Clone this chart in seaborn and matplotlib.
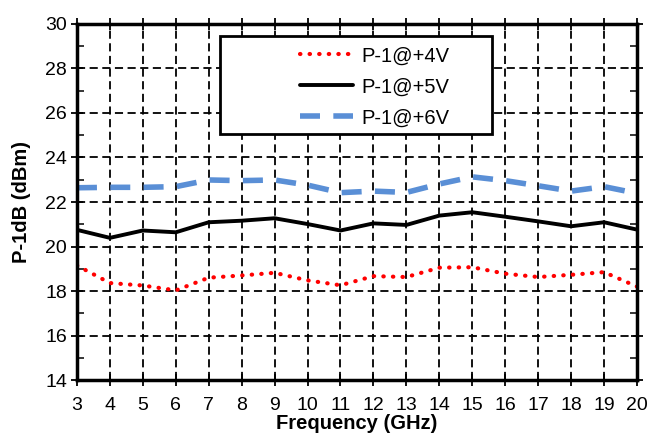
import matplotlib
matplotlib.use("Agg")
import matplotlib.pyplot as plt
import seaborn as sns
import pandas as pd
from matplotlib.ticker import MultipleLocator
from matplotlib.patches import Rectangle

freq = [3, 4, 5, 6, 7, 8, 9, 10, 11, 12, 13, 14, 15, 16, 17, 18, 19, 20]
p4v = [19.15, 18.36, 18.25, 18.03, 18.6, 18.7, 18.82, 18.48, 18.26, 18.67, 18.63, 19.05, 19.07, 18.78, 18.63, 18.73, 18.85, 18.2]
p5v = [20.75, 20.39, 20.72, 20.64, 21.09, 21.16, 21.27, 21.01, 20.72, 21.04, 20.97, 21.39, 21.54, 21.34, 21.13, 20.91, 21.09, 20.76]
p6v = [22.64, 22.66, 22.66, 22.69, 22.99, 22.96, 22.99, 22.76, 22.42, 22.49, 22.43, 22.81, 23.13, 22.96, 22.73, 22.49, 22.69, 22.39]
labels = ["P-1@+4V", "P-1@+5V", "P-1@+6V"]

sns.set_theme(style="white")
plt.rcParams["font.family"] = ["Liberation Sans", "DejaVu Sans"]
plt.rcParams["text.color"] = "black"
plt.rcParams["axes.labelcolor"] = "black"

fig = plt.figure(figsize=(6.52, 4.43), dpi=100)
ax = fig.add_axes([0.118, 0.142, 0.859, 0.804])

df = pd.DataFrame({"f": freq, "a": p4v, "b": p5v, "c": p6v})
sns.lineplot(data=df, x="f", y="a", ax=ax, color="#FF0000", lw=3.0,
             linestyle=(0, (0.1, 2.2)), dash_capstyle="round", label=labels[0])
sns.lineplot(data=df, x="f", y="b", ax=ax, color="black", lw=2.8, label=labels[1])
sns.lineplot(data=df, x="f", y="c", ax=ax, color="#5A8FD6", lw=4.0,
             linestyle=(0, (3.6, 2.4)), label=labels[2])

ax.set_xlim(3, 20)
ax.set_ylim(14, 30)
ax.xaxis.set_major_locator(MultipleLocator(1))
ax.yaxis.set_major_locator(MultipleLocator(2))
ax.yaxis.set_minor_locator(MultipleLocator(1))
ax.grid(True, which="major", color="black", linestyle=(0, (4.5, 2.5)), lw=1.3)
ax.set_axisbelow(True)

for s in ax.spines.values():
    s.set_color("black")
    s.set_linewidth(2.5)

ax.tick_params(axis="both", which="major", labelsize=14, colors="black",
               direction="inout", length=8, width=1.3, pad=3,
               top=True, right=True, bottom=True, left=True)
ax.tick_params(axis="x", which="major", pad=8)
ax.tick_params(axis="y", which="minor", direction="in", length=5, width=1.3,
               left=True, right=True)

ax.set_xlabel("Frequency (GHz)", fontsize=14.5, fontweight="bold", labelpad=0, color="black")
ax.set_ylabel("P-1dB (dBm)", fontsize=14.5, fontweight="bold", labelpad=10, color="black")

# legend frame (wide box as in the reference)
box = Rectangle((0.2554, 0.691), 0.4856, 0.275, transform=ax.transAxes,
                facecolor="white", edgecolor="black", lw=2.0, zorder=9)
ax.add_patch(box)

leg = ax.legend(loc="upper left", bbox_to_anchor=(0.398, 0.937), fontsize=14.5,
                frameon=False, handlelength=2.65, borderpad=0, labelspacing=0.6,
                borderaxespad=0, handletextpad=0.4, labelcolor="black")
leg.set_zorder(10)

fig.savefig("out.png", dpi=100, facecolor="white")
